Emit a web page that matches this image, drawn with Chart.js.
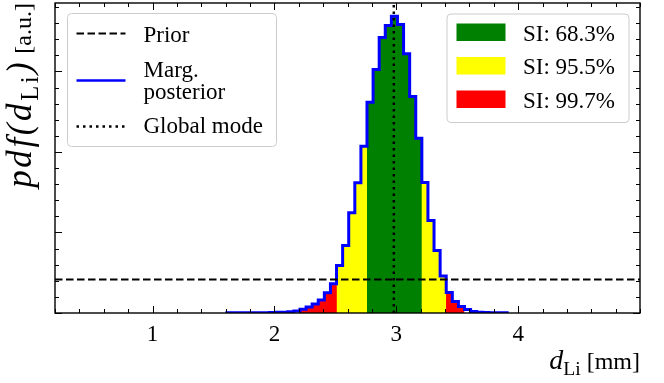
<!DOCTYPE html>
<html>
<head>
<meta charset="utf-8">
<script src="https://cdn.jsdelivr.net/npm/chart.js@4.4.1/dist/chart.umd.min.js"></script>
<style>
  html, body { margin: 0; padding: 0; background: #fff; }
  #wrap { width: 664px; height: 383px; }
</style>
</head>
<body>
<div id="wrap"><canvas id="chart" width="664" height="383"></canvas></div>
<script>
// histogram of the marginal posterior of d_Li
var binEdges = [1.61, 1.66, 1.71, 1.76, 1.81, 1.86, 1.91, 1.96, 2.01, 2.06, 2.11, 2.16,
  2.21, 2.26, 2.31, 2.36, 2.41, 2.46, 2.51, 2.56, 2.61, 2.66, 2.71, 2.76, 2.81, 2.86,
  2.91, 2.96, 3.01, 3.06, 3.11, 3.16, 3.21, 3.26, 3.31, 3.36, 3.41, 3.46, 3.51, 3.56,
  3.61, 3.66, 3.71, 3.76, 3.81, 3.86, 3.91];
var posterior = [0.001, 0.001, 0.001, 0.001, 0.002, 0.002, 0.002, 0.003, 0.004, 0.005,
  0.007, 0.013, 0.024, 0.037, 0.056, 0.080, 0.125, 0.181, 0.295, 0.419, 0.622, 0.809,
  1.036, 1.309, 1.512, 1.710, 1.786, 1.842, 1.792, 1.610, 1.345, 1.085, 0.810, 0.575,
  0.388, 0.229, 0.127, 0.072, 0.040, 0.021, 0.010, 0.005, 0.003, 0.002, 0.001, 0.001];

var priorRange = [0.2, 5.0];
var priorDensity = 0.208;
var globalMode = 2.98;

// shortest intervals, inner to outer
var siLabels = ['SI: 68.3%', 'SI: 95.5%', 'SI: 99.7%'];
var siColors = ['#008000', '#ffff00', '#ff0000'];
var siBounds = [[2.76, 3.21], [2.51, 3.41], [2.21, 3.56]];

var xLimits = [0.2, 5.0];
var yLimits = [0, 1.925];
var xMajorTicks = [1, 2, 3, 4];
var yMajorTicks = [0, 0.5, 1.0, 1.5];
var xMinorStep = 0.2;
var yMinorStep = 0.1;

var FONT = '"Liberation Serif", "Times New Roman", serif';
var FS = 23;      // legend / tick text
var FS_LAB = 24;  // axis label text

function stepPoints(lo, hi) {
  var pts = [];
  for (var i = 0; i < posterior.length; i++) {
    if (binEdges[i] >= lo - 1e-9 && binEdges[i + 1] <= hi + 1e-9) {
      pts.push({x: binEdges[i], y: posterior[i]});
    }
  }
  pts.push({x: hi, y: pts[pts.length - 1].y});
  return pts;
}

var outline = [{x: binEdges[0], y: 0}]
  .concat(stepPoints(binEdges[0], binEdges[binEdges.length - 1]))
  .concat([{x: binEdges[binEdges.length - 1], y: 0}]);

var datasets = [
  {label: 'Prior', data: [{x: priorRange[0], y: priorDensity}, {x: priorRange[1], y: priorDensity}],
    borderColor: '#000', borderWidth: 2, borderDash: [7.5, 3.5], order: 0},
  {label: 'Global mode', data: [{x: globalMode, y: yLimits[0]}, {x: globalMode, y: yLimits[1]}],
    borderColor: '#000', borderWidth: 2.5, borderDash: [2.5, 4], order: 0},
  {label: 'Marg. posterior', data: outline, stepped: 'before',
    borderColor: '#0000ff', borderWidth: 3, order: 1}
];
siBounds.forEach(function (b, k) {
  datasets.push({label: siLabels[k], data: stepPoints(b[0], b[1]), stepped: 'before',
    borderWidth: 0, backgroundColor: siColors[k], fill: 'origin', order: 2 + k});
});

function inTicks(chart) {
  var ctx = chart.ctx, a = chart.chartArea;
  var xs = chart.scales.x, ys = chart.scales.y;
  ctx.save();
  ctx.strokeStyle = '#000';
  ctx.lineWidth = 1;
  ctx.beginPath();
  function tick(x1, y1, x2, y2) { ctx.moveTo(x1, y1); ctx.lineTo(x2, y2); }
  var v, p, n;
  for (n = 0; (v = xLimits[0] + n * xMinorStep) <= xLimits[1] + 1e-9; n++) {
    p = Math.round(xs.getPixelForValue(v)) + 0.5;
    var len = xMajorTicks.indexOf(Math.round(v * 10) / 10) >= 0 ? 7 : 4;
    tick(p, a.bottom, p, a.bottom - len);
    tick(p, a.top, p, a.top + len);
  }
  for (n = 0; (v = yLimits[0] + n * yMinorStep) <= yLimits[1] + 1e-9; n++) {
    p = Math.round(ys.getPixelForValue(v)) + 0.5;
    var leny = yMajorTicks.indexOf(Math.round(v * 10) / 10) >= 0 ? 7 : 4;
    tick(a.left, p, a.left + leny, p);
    tick(a.right, p, a.right - leny, p);
  }
  ctx.stroke();
  ctx.lineWidth = 1.4;
  ctx.strokeRect(a.left, a.top, a.right - a.left, a.bottom - a.top);
  ctx.restore();
}

// text made of runs: {t, it: italic math, sub: subscript}
function runFont(r, mathSize) {
  var size = r.it ? mathSize : FS_LAB;
  if (r.sub) size = mathSize * 0.7;
  return (r.it ? 'italic ' : '') + size + 'px ' + FONT;
}
function drawRuns(ctx, runs, x, y, mathSize, spacing, alignRight) {
  var w = 0, i;
  for (i = 0; i < 2; i++) {
    var cx = alignRight ? x - w : x;
    if (i === 0) w = 0;
    runs.forEach(function (r) {
      ctx.font = runFont(r, mathSize);
      ctx.letterSpacing = (r.it || r.sub) ? spacing + 'px' : '0px';
      if (i === 1) ctx.fillText(r.t, cx, y + (r.sub ? mathSize * 0.2 : 0));
      var d = ctx.measureText(r.t).width;
      cx += d;
      if (i === 0) w += d;
    });
  }
  ctx.letterSpacing = '0px';
}

function axisTitles(chart) {
  var ctx = chart.ctx, a = chart.chartArea;
  ctx.save();
  ctx.fillStyle = '#000';
  ctx.textBaseline = 'alphabetic';
  ctx.textAlign = 'left';
  var xt = [{t: 'd', it: true}, {t: 'Li', sub: true}, {t: ' [mm]'}];
  drawRuns(ctx, xt, a.right, 369, 28, 0, true);
  var yt = [{t: 'pdf', it: true}, {t: '(', it: true}, {t: 'd', it: true}, {t: 'Li', sub: true},
    {t: ')', it: true}, {t: ' [a.u.]'}];
  ctx.translate(31, a.top);
  ctx.rotate(-Math.PI / 2);
  drawRuns(ctx, yt, 0, 0, 35, 2.6, true);
  ctx.restore();
}

function legendBox(ctx, x, y, w, h) {
  ctx.beginPath();
  ctx.roundRect(x, y, w, h, 4);
  ctx.fillStyle = 'rgba(255,255,255,0.8)';
  ctx.fill();
  ctx.strokeStyle = '#cccccc';
  ctx.lineWidth = 1;
  ctx.stroke();
}

function legends(chart) {
  var ctx = chart.ctx, a = chart.chartArea;
  var lx = a.left + 12.5, ly = a.top + 10.5;
  ctx.save();
  legendBox(ctx, lx, ly, 209, 133);
  ctx.font = FS + 'px ' + FONT;
  ctx.textBaseline = 'alphabetic';
  ctx.fillStyle = '#000';
  function sample(y, color, dash, width) {
    ctx.beginPath();
    ctx.setLineDash(dash);
    ctx.strokeStyle = color;
    ctx.lineWidth = width;
    ctx.moveTo(lx + 9, y);
    ctx.lineTo(lx + 58, y);
    ctx.stroke();
    ctx.setLineDash([]);
  }
  sample(ly + 20, datasets[0].borderColor, datasets[0].borderDash, 2);
  sample(ly + 67, datasets[2].borderColor, [], 2.4);
  sample(ly + 113, datasets[1].borderColor, datasets[1].borderDash, 2.5);
  ctx.fillText(datasets[0].label, lx + 76, ly + 28);
  ctx.fillText('Marg.', lx + 76, ly + 63);
  ctx.fillText('posterior', lx + 76, ly + 85);
  ctx.fillText(datasets[1].label, lx + 76, ly + 119);

  var rx = a.right - 193, ry = a.top + 11;
  legendBox(ctx, rx, ry, 182, 108.5);
  siLabels.forEach(function (lab, k) {
    ctx.fillStyle = siColors[k];
    ctx.fillRect(rx + 9.5, ry + 9.5 + k * 33.5, 49, 17.5);
    ctx.fillStyle = '#000';
    ctx.font = FS + 'px ' + FONT;
    ctx.fillText(lab, rx + 76, ry + 26.5 + k * 33.5);
  });
  ctx.restore();
}

new Chart(document.getElementById('chart'), {
  type: 'line',
  data: {datasets: datasets},
  options: {
    responsive: false,
    animation: false,
    devicePixelRatio: 1,
    layout: {padding: {left: 0, right: 24, top: 3, bottom: 0}},
    elements: {point: {radius: 0}, line: {tension: 0}},
    plugins: {legend: {display: false}, tooltip: {enabled: false}},
    scales: {
      x: {
        type: 'linear', min: xLimits[0], max: xLimits[1],
        grid: {display: false}, border: {display: false},
        ticks: {color: '#000', padding: 0, font: {family: FONT, size: FS}},
        afterBuildTicks: function (s) { s.ticks = xMajorTicks.map(function (v) { return {value: v}; }); },
        afterFit: function (s) { s.height = 70; }
      },
      y: {
        type: 'linear', min: yLimits[0], max: yLimits[1],
        grid: {display: false}, border: {display: false},
        ticks: {display: false},
        afterFit: function (s) { s.width = 55; }
      }
    }
  },
  plugins: [{
    id: 'decor',
    afterDatasetsDraw: function (chart) { inTicks(chart); },
    afterDraw: function (chart) { axisTitles(chart); legends(chart); }
  }]
});
</script>
</body>
</html>
